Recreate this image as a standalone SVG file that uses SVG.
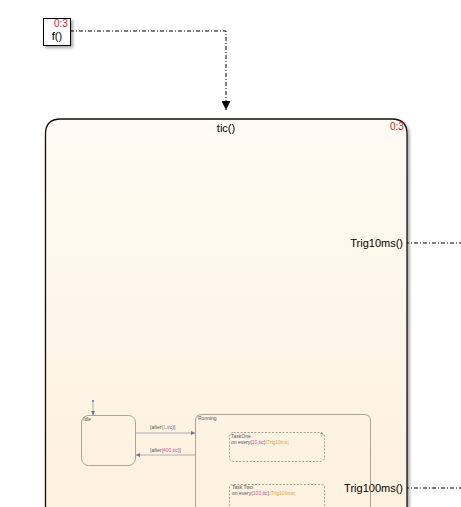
<svg xmlns="http://www.w3.org/2000/svg" width="461" height="507" viewBox="0 0 461 507">
<style>
text{font-family:"Liberation Sans",Arial,sans-serif}
.dd{fill:none;stroke:#000;stroke-width:1;stroke-dasharray:4 2 1 2}
.red{fill:#d42020;font-size:10px}
.big{font-size:11px;fill:#000}
.sm{font-size:5px;fill:#555}
.st{fill:none;stroke:#9a8e80;stroke-width:0.8}
.tr{fill:none;stroke:#8a8aaa;stroke-width:0.7}
.dash{fill:none;stroke:#8a8070;stroke-width:0.7;stroke-dasharray:2 1.5}
.o{fill:#e0a040}.p{fill:#b050c0}.m{fill:#e050a0}
</style>
<defs>
<linearGradient id="g" x1="0" y1="0" x2="0" y2="1">
<stop offset="0" stop-color="#fffbf4"/>
<stop offset="1" stop-color="#fdf1de"/>
</linearGradient>
<filter id="sh" x="-10%" y="-10%" width="130%" height="130%">
<feDropShadow dx="2" dy="2" stdDeviation="1.5" flood-color="#000" flood-opacity="0.35"/>
</filter>
<marker id="ah" viewBox="0 0 10 10" refX="10" refY="5" markerWidth="9" markerHeight="9" orient="auto" markerUnits="userSpaceOnUse">
<path d="M0,0 L10,5 L0,10 z" fill="#000"/>
</marker>
<marker id="sa" viewBox="0 0 10 10" refX="10" refY="5" markerWidth="4" markerHeight="4" orient="auto" markerUnits="userSpaceOnUse">
<path d="M0,0 L10,5 L0,10 z" fill="#7070a0"/>
</marker>
</defs>
<rect width="461" height="507" fill="#fff"/>
<g id="connectors">
<path class="dd" d="M70,31 H226 V110" marker-end="url(#ah)"/>
<path class="dd" d="M405,243 H461"/>
<path class="dd" d="M405,488 H461"/>
</g>
<g id="f">
<rect x="43.5" y="18.5" width="27" height="27" fill="#fff" stroke="#000" stroke-width="1" filter="url(#sh)"/>
<text x="57" y="40" class="big" text-anchor="middle" font-size="14">f()</text>
<text x="54" y="27" class="red">0:3</text>
</g>
<g id="tic">
<path d="M45.5,520 V134 Q45.5,119 60.5,119 H392 Q407,119 407,134 V520" fill="url(#g)" stroke="#111" stroke-width="1.3" filter="url(#sh)"/>
<text x="226" y="132" class="big" text-anchor="middle">tic()</text>
<text x="390" y="130" class="red">0:3</text>
<text x="403" y="247" class="big" text-anchor="end">Trig10ms()</text>
<text x="403" y="492" class="big" text-anchor="end">Trig100ms()</text>
</g>
<g id="idle">
<rect x="81.5" y="415.5" width="54" height="50" rx="7" class="st"/>
<text x="83" y="421" class="sm">Idle</text>
</g>
<g id="running">
<path d="M195.5,520 V421 Q195.5,414.5 202,414.5 H364 Q370.5,414.5 370.5,421 V520" class="st"/>
<text x="198" y="420" class="sm">Running</text>
</g>
<g id="taskone">
<rect x="229.5" y="432.5" width="95" height="29" rx="4" class="dash"/>
<text x="231" y="438" class="sm">TaskOne</text>
<text x="231" y="444" class="sm">on every(<tspan class="m">10</tspan>,<tspan class="p">tic</tspan>):<tspan class="o">Trig10ms</tspan>;</text>
<text x="320" y="437" class="sm">?</text>
</g>
<g id="tasktwo">
<path d="M229.5,520 V488 Q229.5,484.5 233,484.5 H321 Q324.5,484.5 324.5,488 V520" class="dash"/>
<text x="232" y="489" class="sm">Task Two</text>
<text x="232" y="495" class="sm">on every(<tspan class="m">100</tspan>,<tspan class="p">tic</tspan>):<tspan class="o">Trig100ms</tspan>;</text>
</g>
<g id="transitions">
<circle cx="93" cy="401" r="1" fill="#6060a0"/>
<path class="tr" d="M93,401 V415" marker-end="url(#sa)"/>
<path class="tr" d="M136,433 H195" marker-end="url(#sa)"/>
<text x="150" y="429" class="sm">[after(<tspan class="o">1</tspan>,<tspan class="p">tic</tspan>)]</text>
<path class="tr" d="M195,455 H136" marker-end="url(#sa)"/>
<text x="150" y="452" class="sm">[after(<tspan class="m">400</tspan>,<tspan class="p">tic</tspan>)]</text>
</g>
</svg>
